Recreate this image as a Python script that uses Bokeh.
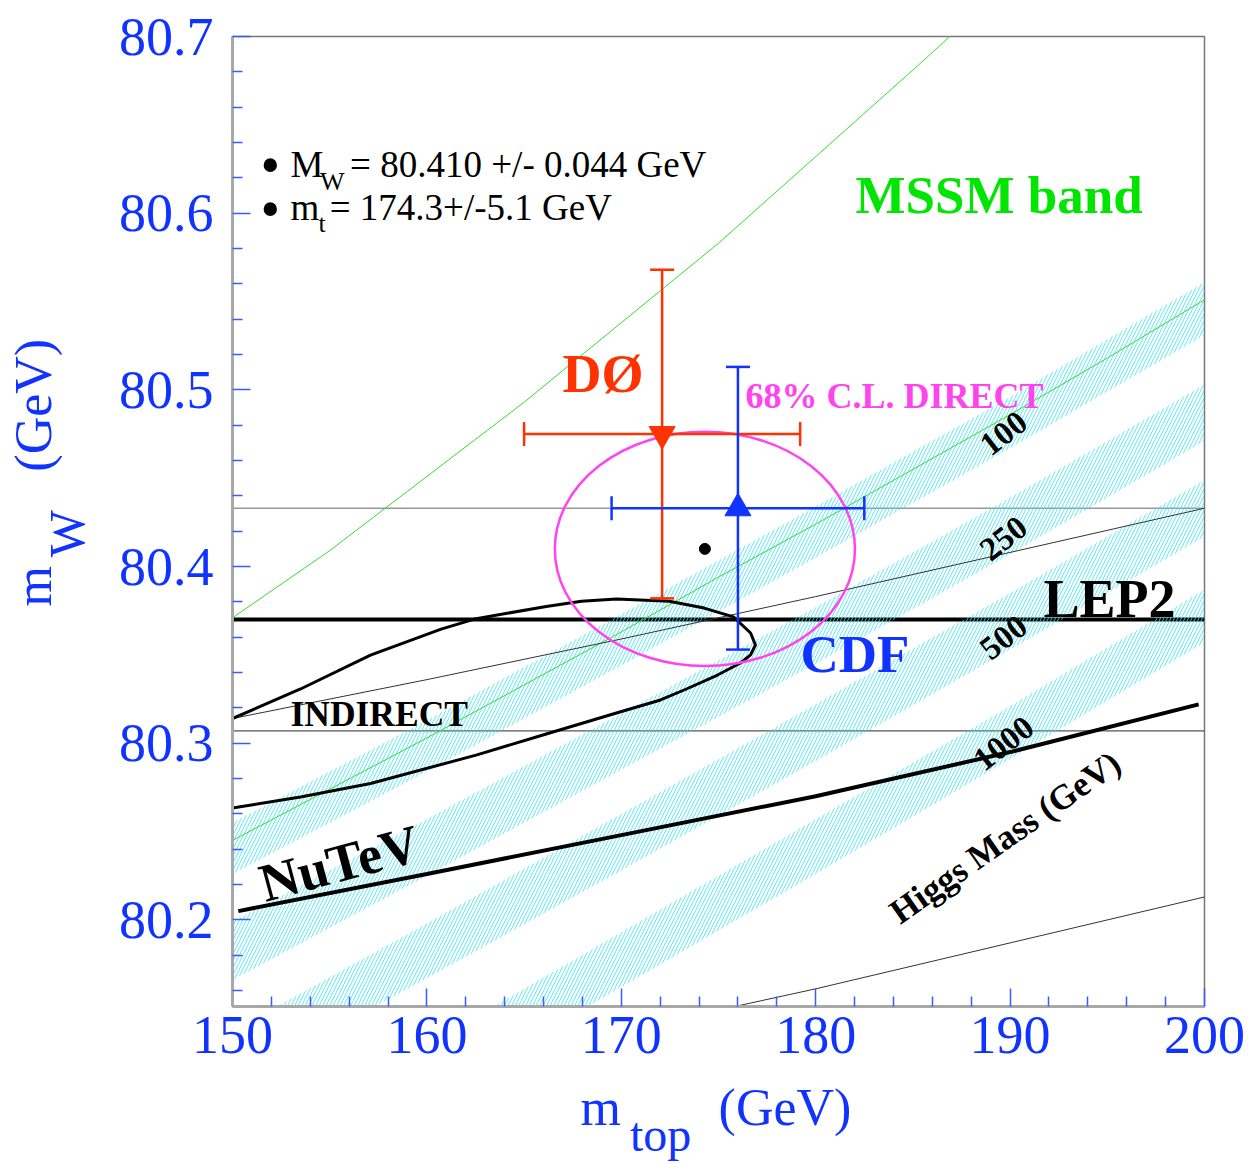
import numpy as np
from bokeh.plotting import figure
from bokeh.models import Label, Range1d, FixedTicker, LinearAxis
from bokeh.embed import file_html
from bokeh.resources import INLINE

# ---------------- data ----------------
x_ticks = [150, 160, 170, 180, 190, 200]
x_minor = [152, 154, 156, 158, 162, 164, 166, 168, 172, 174, 176, 178,
           182, 184, 186, 188, 192, 194, 196, 198]
y_ticks = [80.2, 80.3, 80.4, 80.5, 80.6, 80.7]
y_minor = [80.16, 80.18, 80.22, 80.24, 80.26, 80.28, 80.32, 80.34, 80.36, 80.38,
           80.42, 80.44, 80.46, 80.48, 80.52, 80.54, 80.56, 80.58, 80.62, 80.64,
           80.66, 80.68]

# SM bands for several Higgs masses (lower / upper edge), m_top grid in GeV
mt_grid = [150, 160, 170, 180, 190, 200]
higgs_mass_labels = ["100", "250", "500", "1000"]
higgs_label_mw = [80.4755, 80.416, 80.360, 80.300]
band100_lo = [80.226, 80.284, 80.344, 80.405, 80.467, 80.531]
band100_hi = [80.255, 80.313, 80.373, 80.434, 80.496, 80.561]
band250_lo = [80.166, 80.225, 80.285, 80.345, 80.407, 80.471]
band250_hi = [80.199, 80.257, 80.317, 80.377, 80.439, 80.503]
band500_lo = [80.107, 80.167, 80.228, 80.290, 80.353, 80.417]
band500_hi = [80.137, 80.198, 80.260, 80.322, 80.385, 80.449]
band1000_lo = [80.035, 80.098, 80.162, 80.226, 80.291, 80.357]
band1000_hi = [80.065, 80.129, 80.193, 80.257, 80.321, 80.387]

# MSSM band edges (green)
mssm_hi_mt = [150, 155, 160, 165, 170, 175, 180, 185, 190]
mssm_hi_mw = [80.371, 80.409, 80.451, 80.493, 80.538, 80.583, 80.632, 80.681, 80.731]
mssm_lo_mt = [150, 155, 160, 165, 170, 175, 180, 185, 190, 195, 200]
mssm_lo_mw = [80.245, 80.274, 80.303, 80.333, 80.363, 80.394, 80.424, 80.455,
              80.486, 80.518, 80.551]

# NuTeV central line and +/- 1 sigma lines
nutev_mt = [150.3, 160, 170, 180, 190, 199.7]
nutev_mw = [80.205, 80.226, 80.248, 80.270, 80.295, 80.322]
nutev_band_mt = [150, 160, 170, 180, 190, 200]
nutev_hi_mw = [80.314, 80.336, 80.359, 80.383, 80.408, 80.433]
nutev_lo_mw = [80.090, 80.113, 80.137, 80.161, 80.187, 80.213]

# LEP2 line and horizontal band lines
lep2_mt = [150, 200]
lep2_mw = 80.370
hband_hi_mw = 80.433
hband_lo_mw = 80.307

# INDIRECT 68% contour (cut by the left frame)
indirect_mt = [150.0, 153.5, 157.1, 160.73, 162.53, 166.14, 167.95, 169.75, 172.46,
               174.26, 175.77, 176.65, 176.90, 176.65, 176.13, 174.95, 173.35, 172.02,
               169.75, 166.14, 162.53, 157.1, 153.5, 150.0]
indirect_mw = [80.314, 80.3307, 80.3499, 80.3646, 80.3705, 80.3774, 80.3804, 80.3816,
               80.3804, 80.3765, 80.3715, 80.3624, 80.3556, 80.3500, 80.3454, 80.3386,
               80.3307, 80.3245, 80.3171, 80.3052, 80.2933, 80.2772, 80.2696, 80.2633]

# direct measurements
d0_mt, d0_mt_err, d0_mw, d0_mw_err = 172.1, 7.1, 80.475, 0.093
cdf_mt, cdf_mt_err, cdf_mw, cdf_mw_err = 176.0, 6.5, 80.433, 0.080
avg_mt, avg_mw = 174.3, 80.410
ellipse_half_mt, ellipse_half_mw = 7.72, 0.0663

# axis-title pieces (positions along the axes)
xtitle_pos = [168.94, 178.42]
xtitle_txt = ["m", "(GeV)"]
xsub_pos = [172.02]
xsub_txt = ["top"]
ytitle_pos = [80.3889, 80.4913]
ytitle_txt = ["m", "(GeV)"]
ysub_pos = [80.4186]
ysub_txt = ["W"]

# ---------------- colours ----------------
BLUE = "#1133ff"
RED = "#ff3300"
MAG = "#ff44ee"
GREEN_T = "#00e600"
GREEN_L = "#33dd33"
CYAN = "#40e2f0"
SERIF = "Liberation Serif"

p = figure(frame_width=972, frame_height=970, output_backend="svg", toolbar_location=None,
           x_range=Range1d(150, 200), y_range=Range1d(80.151, 80.7),
           min_border_left=232, min_border_right=46, min_border_top=36,
           min_border_bottom=150)
p.background_fill_color = "white"
p.border_fill_color = "white"
p.grid.visible = False
p.outline_line_color = "#777777"
p.outline_line_width = 1.5

for ax, tk, mn in ((p.xaxis, x_ticks, x_minor), (p.yaxis, y_ticks, y_minor)):
    ax.ticker = FixedTicker(ticks=tk, minor_ticks=mn)
    ax.axis_line_color = "#a8a8a8"
    ax.axis_line_width = 3
    ax.major_tick_line_color = "#3a5cff"
    ax.minor_tick_line_color = "#3a5cff"
    ax.major_tick_line_width = 1.5
    ax.minor_tick_line_width = 1.5
    ax.major_tick_in = 18
    ax.major_tick_out = 0
    ax.minor_tick_in = 10
    ax.minor_tick_out = 0
    ax.major_label_text_font = SERIF
    ax.major_label_text_font_size = "54px"
    ax.major_label_text_color = BLUE
p.xaxis.major_label_standoff = 10
p.yaxis.major_label_standoff = 19


def title_axis(ticks, labels, side, size, standoff, orientation="horizontal"):
    ax = LinearAxis(ticker=FixedTicker(ticks=ticks, minor_ticks=[]),
                    major_label_overrides=dict(zip(ticks, labels)),
                    axis_line_color=None, major_tick_line_color=None,
                    minor_tick_line_color=None, major_tick_in=0, major_tick_out=0,
                    minor_tick_in=0, minor_tick_out=0, major_label_standoff=standoff,
                    major_label_text_font=SERIF, major_label_text_font_size=f"{size}px",
                    major_label_text_color=BLUE, major_label_orientation=orientation)
    p.add_layout(ax, side)


title_axis(xtitle_pos, xtitle_txt, "below", 52, 23)
title_axis(xsub_pos, xsub_txt, "below", 48, -31)
title_axis(ysub_pos, ysub_txt, "left", 50, 20, "vertical")
title_axis(ytitle_pos, ytitle_txt, "left", 52, -26, "vertical")

# horizontal lines
p.line(lep2_mt, [hband_hi_mw] * 2, line_color="#999999", line_width=1.5)
p.line(lep2_mt, [hband_lo_mw] * 2, line_color="#555555", line_width=1.3)
p.line(lep2_mt, [lep2_mw] * 2, line_color="black", line_width=4)

# hatched SM bands
for lo, hi in ((band100_lo, band100_hi), (band250_lo, band250_hi),
               (band500_lo, band500_hi), (band1000_lo, band1000_hi)):
    p.varea(x=mt_grid, y1=lo, y2=hi, fill_color=None, fill_alpha=0,
            hatch_pattern="/", hatch_color=CYAN, hatch_scale=7, hatch_weight=0.85)

# MSSM edges
p.line(mssm_hi_mt, mssm_hi_mw, line_color=GREEN_L, line_width=1)
p.line(mssm_lo_mt, mssm_lo_mw, line_color=GREEN_L, line_width=1)

# NuTeV
p.line(nutev_band_mt, nutev_hi_mw, line_color="#333333", line_width=1)
p.line(nutev_band_mt, nutev_lo_mw, line_color="#333333", line_width=1)
p.line(nutev_mt, nutev_mw, line_color="black", line_width=4)

# indirect contour
p.line(indirect_mt, indirect_mw, line_color="black", line_width=3, line_join="round")

# direct 68% CL ellipse
p.ellipse(x=[avg_mt], y=[avg_mw], width=[2 * ellipse_half_mt], height=[2 * ellipse_half_mw],
          fill_color=None, line_color=MAG, line_width=2.5)

# error bars and markers
for (mt, mte, mw, mwe, col, mk) in ((d0_mt, d0_mt_err, d0_mw, d0_mw_err, RED, "inverted_triangle"),
                                     (cdf_mt, cdf_mt_err, cdf_mw, cdf_mw_err, BLUE, "triangle")):
    p.segment(x0=[mt - mte, mt], y0=[mw, mw - mwe], x1=[mt + mte, mt], y1=[mw, mw + mwe],
              line_color=col, line_width=2.5)
    p.scatter(x=[mt - mte, mt + mte], y=[mw, mw], marker="dash", angle=np.pi / 2,
              size=24, line_color=col, line_width=2.5)
    p.scatter(x=[mt, mt], y=[mw - mwe, mw + mwe], marker="dash",
              size=24, line_color=col, line_width=2.5)
    p.scatter(x=[mt], y=[mw], marker=mk, size=26, fill_color=col, line_color=col)

p.scatter(x=[avg_mt], y=[avg_mw], marker="circle", size=11, fill_color="black",
          line_color="black")


def lab(x, y, text, size, color="black", bold=False, angle=0.0, align="left",
        baseline="alphabetic"):
    xo = yo = 0.0
    if baseline == "alphabetic":
        d = 0.34 * size
        xo, yo = -d * np.sin(angle), d * np.cos(angle)
    p.add_layout(Label(x=x, y=y, text=text, text_font=SERIF, text_font_size=f"{size}px",
                       text_color=color, text_font_style="bold" if bold else "normal",
                       angle=angle, text_align=align, text_baseline=baseline,
                       x_offset=xo, y_offset=yo))


# in-plot texts
lab(182.05, 80.600, "MSSM band", 53, GREEN_T, True)
lab(166.98, 80.4986, "DØ", 54, RED, True)
lab(176.39, 80.4896, "68% C.L. DIRECT", 36, MAG, True)
lab(179.22, 80.3403, "CDF", 53, BLUE, True)
lab(191.72, 80.3715, "LEP2", 54, "black", True)
lab(152.98, 80.3097, "INDIRECT", 35.5, "black", True)
lab(151.70, 80.2100, "NuTeV", 54, "black", True, angle=np.deg2rad(15))
lab(184.36, 80.197, "Higgs Mass (GeV)", 35, "black", True, angle=np.deg2rad(35))
for txt, yy in zip(higgs_mass_labels, higgs_label_mw):
    lab(189.66, yy, txt, 33, "black", True, angle=np.deg2rad(38), align="center",
        baseline="middle")

# measurement summary
lab(151.44, 80.6163, "•", 56)
lab(152.98, 80.6203, "M", 37)
lab(154.50, 80.6129, "W", 26)
lab(156.05, 80.6203, "= 80.410 +/- 0.044 GeV", 37)
lab(151.44, 80.5914, "•", 56)
lab(152.98, 80.5959, "m", 37)
lab(154.42, 80.5891, "t", 26)
lab(155.00, 80.5959, "= 174.3+/-5.1 GeV", 37)

open("out.html", "w").write(file_html(p, INLINE))
